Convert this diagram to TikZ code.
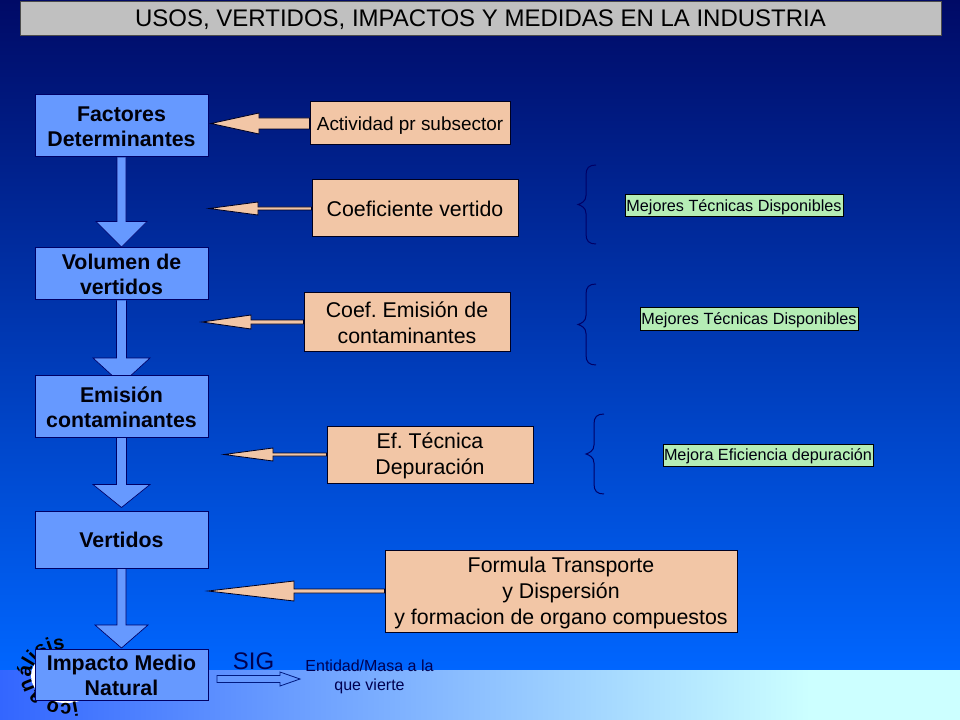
\documentclass[tikz,border=0pt]{standalone}
\usepackage{fontspec}
\setmainfont{Liberation Sans}
\frenchspacing
\usetikzlibrary{calc,decorations.text}
\pgfdeclarelayer{bg}
\pgfdeclarelayer{arrowlayer}
\pgfsetlayers{bg,arrowlayer,main}
\definecolor{navy}{HTML}{000066}
\definecolor{topblue}{HTML}{000A66}
\definecolor{lowblue}{HTML}{0066FF}
\definecolor{boxblue}{HTML}{6699FF}
\definecolor{peach}{HTML}{F2C6A6}
\definecolor{mint}{HTML}{B5EDB5}
\definecolor{greybar}{HTML}{C0C0C0}
\definecolor{edgeblue}{HTML}{001A80}
\definecolor{bandleft}{HTML}{3366FF}
\definecolor{bandright}{HTML}{CCFFFF}
\definecolor{sigtext}{HTML}{000050}
\newcommand{\dn}[1]{\rule{0pt}{#1pt}}
\tikzset{
  x=0.75pt,y=-0.75pt,
  stagebox/.style={draw=navy,fill=boxblue,line width=0.75pt,align=center,inner sep=0pt,text=black!90!navy,font=\fontsize{16}{18.75}\bfseries\selectfont},
  factorbox/.style={draw=black!70!navy,fill=peach,line width=0.75pt,align=center,inner sep=0pt,text=black,font=\fontsize{16}{19.5}\selectfont},
  measurebox/.style={draw=black,fill=mint,line width=0.75pt,inner sep=0pt,text=black!85!navy,font=\fontsize{12.15}{14}\selectfont},
  downarrow/.style={draw=navy,fill=boxblue,line width=0.5pt,line join=miter},
  leftarrow/.style={draw=black!70!navy,fill=peach,line width=0.6pt},
  bracestroke/.style={draw=navy,line width=0.75pt},
}
\newcommand{\DownArrow}[5]{% from, to, shaft half, head half, head length (px)
  \draw[downarrow] let \p1=(#1),\p2=(#2) in
    ({\x1-#3*0.75pt},\y1) -- ({\x1-#3*0.75pt},{\y2+#5*0.75pt}) -- ({\x1-#4*0.75pt},{\y2+#5*0.75pt})
    -- (\x1,\y2) -- ({\x1+#4*0.75pt},{\y2+#5*0.75pt}) -- ({\x1+#3*0.75pt},{\y2+#5*0.75pt}) -- ({\x1+#3*0.75pt},\y1);}
\newcommand{\LeftArrow}[6][leftarrow]{% from, to, shaft half, head half, head length (px; negative points right)
  \draw[#1] let \p1=(#2),\p2=(#3) in
    (\x1,{\y1+#4*0.75pt}) -- ({\x2+#6*0.75pt},{\y1+#4*0.75pt}) -- ({\x2+#6*0.75pt},{\y1+#5*0.75pt})
    -- (\x2,\y1) -- ({\x2+#6*0.75pt},{\y1-#5*0.75pt}) -- ({\x2+#6*0.75pt},{\y1-#4*0.75pt}) -- (\x1,{\y1-#4*0.75pt}) -- cycle;}
\newcommand{\LeftBrace}[3]{% point x, top y, bottom y
  \draw[bracestroke] ({#1+18},#2) .. controls ({#1+11},#2) and ({#1+8},{#2+3}) .. ({#1+8},{#2+10})
    -- ({#1+8},{(#2+#3)/2-9}) .. controls ({#1+8},{(#2+#3)/2-3}) and ({#1+3},{(#2+#3)/2-1}) .. (#1,{(#2+#3)/2})
    .. controls ({#1+3},{(#2+#3)/2+1}) and ({#1+8},{(#2+#3)/2+3}) .. ({#1+8},{(#2+#3)/2+9})
    -- ({#1+8},{#3-10}) .. controls ({#1+8},{#3-3}) and ({#1+11},#3) .. ({#1+18},#3);}
\begin{document}
\begin{tikzpicture}
\useasboundingbox (0,0) rectangle (960,720);
\begin{pgfonlayer}{bg}
  \shade[top color=topblue,bottom color=lowblue] (0,0) rectangle (960,671);
  \shade[left color=bandleft,right color=bandright] (0,670) rectangle (810,720);
  \fill[bandright] (809,670) rectangle (960,720);
\end{pgfonlayer}

% title
\node[draw=black!70,fill=greybar,minimum width=921*0.75pt,minimum height=34*0.75pt,inner sep=0pt,font=\fontsize{18}{20}\selectfont,text=black] (title) at (480.5,18) {\dn{14.5}USOS, VERTIDOS, IMPACTOS Y MEDIDAS EN LA INDUSTRIA};

% stages
\node[stagebox,minimum width=173*0.75pt,minimum height=62*0.75pt] (factores) at (121.5,126) {\dn{12.4}Factores\\Determinantes};
\node[stagebox,minimum width=173*0.75pt,minimum height=52*0.75pt] (volumen) at (121.5,274) {\dn{12}Volumen de\\vertidos};
\node[stagebox,minimum width=173*0.75pt,minimum height=62*0.75pt] (emision) at (121.5,406.5) {\dn{13}Emisión\\contaminantes};
\node[stagebox,minimum width=173*0.75pt,minimum height=57*0.75pt] (vertidos) at (121.5,539.5) {Vertidos};
\node[stagebox,minimum width=173*0.75pt,minimum height=51*0.75pt] (impacto) at (121.5,675) {Impacto Medio\\Natural};

% factors
\node[factorbox,minimum width=200*0.75pt,minimum height=43*0.75pt,font=\fontsize{14.2}{16}\selectfont] (actividad) at (410,123.5) {\dn{13}Actividad pr subsector};
\node[factorbox,minimum width=206*0.75pt,minimum height=57*0.75pt] (coefv) at (415,208.5) {Coeficiente vertido};
\node[factorbox,minimum width=206*0.75pt,minimum height=58*0.75pt] (coefe) at (407,322) {\dn{12.4}Coef. Emisión de\\contaminantes};
\node[factorbox,minimum width=206*0.75pt,minimum height=57*0.75pt] (eftec) at (430,454.5) {\dn{14}Ef. Técnica\\Depuración};
\node[factorbox,minimum width=352*0.75pt,minimum height=82*0.75pt] (formula) at (561,591) {\dn{15}Formula Transporte\\y Dispersión\\y formacion de organo compuestos};

% measures
\node[measurebox,minimum width=218*0.75pt,minimum height=22*0.75pt] (mtd1) at (734,206) {\dn{10.6}Mejores Técnicas Disponibles};
\node[measurebox,minimum width=218*0.75pt,minimum height=22*0.75pt] (mtd2) at (749,319) {\dn{10.6}Mejores Técnicas Disponibles};
\node[measurebox,minimum width=210*0.75pt,minimum height=22*0.75pt] (mejora) at (768,455) {\dn{10.6}Mejora Eficiencia depuración};

% SIG
\node[text=sigtext,inner sep=0pt,font=\fontsize{18}{20}\selectfont] (sig) at (253.5,661) {SIG};
\node[text=sigtext,inner sep=0pt,align=center,font=\fontsize{12}{14.25}\selectfont] (entidad) at (369.5,675.5) {\dn{10.5}Entidad/Masa a la\\que vierte};

% free ends of the connectors
\coordinate (t1) at (211,123.5);
\coordinate (t2) at (209,208.5);
\coordinate (t3) at (202,322);
\coordinate (t4) at (224,454.5);
\coordinate (t5) at (208,591);
\coordinate (s0) at (217,679);
\coordinate (s1) at (300,679);
\coordinate (tip2) at (121.5,384);
\coordinate (tip3) at (121.5,507.5);
\coordinate (tip4) at (121.5,648);
\coordinate (tip1) at (121.5,247);

\begin{pgfonlayer}{arrowlayer}
  \fill[white] (66,676) ellipse[x radius=35,y radius=27];
  \path[decorate,decoration={text along path,text={|\fontsize{15}{17}\bfseries\selectfont|ico análisis},text align=left}]
     (66,676) ++(72:35 and 27) arc[start angle=72,end angle=300,x radius=35,y radius=27];
  \DownArrow{factores.south}{tip1}{4.5}{25.5}{25.5}
  \DownArrow{volumen.south}{tip2}{5}{28.5}{26}
  \DownArrow{emision.south}{tip3}{5}{28.5}{23}
  \DownArrow{vertidos.south}{tip4}{4.5}{26.5}{23}
  \LeftArrow{actividad.west}{t1}{5.5}{10.5}{48}
  \LeftArrow{coefv.west}{t2}{1.5}{6.5}{49}
  \LeftArrow{coefe.west}{t3}{2}{7}{49}
  \LeftArrow{eftec.west}{t4}{1.5}{6.5}{49}
  \LeftArrow{formula.west}{t5}{2}{10}{86}
  \LeftArrow[draw=edgeblue,fill=boxblue,line width=0.6pt]{s0}{s1}{3.5}{7}{-20}
\end{pgfonlayer}

% braces
\LeftBrace{578}{165}{244}
\LeftBrace{578}{284}{365}
\LeftBrace{586}{414}{494}
\end{tikzpicture}
\end{document}
